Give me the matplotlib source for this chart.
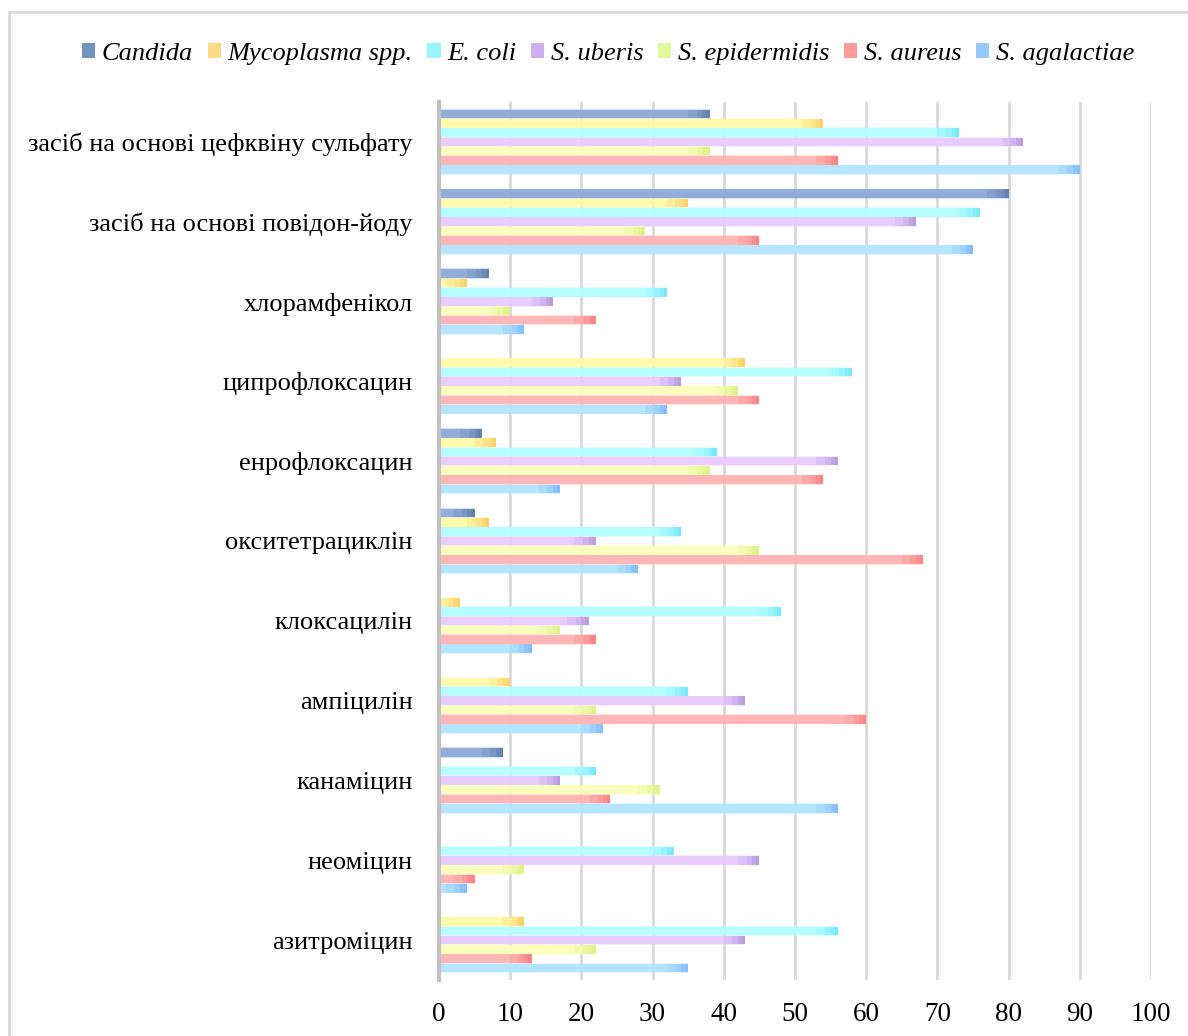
import matplotlib
matplotlib.use("Agg")
import matplotlib.pyplot as plt
from matplotlib.patches import Patch, Rectangle
import numpy as np

plt.rcParams['font.family'] = ['Liberation Serif', 'DejaVu Serif']

# Categories listed bottom to top
categories = [
    "азитроміцин",
    "неоміцин",
    "канаміцин",
    "ампіцилін",
    "клоксацилін",
    "окситетрациклін",
    "енрофлоксацин",
    "ципрофлоксацин",
    "хлорамфенікол",
    "засіб на основі повідон-йоду",
    "засіб на основі цефквіну сульфату",
]

# Series (top of each group to bottom)
candida        = [0, 0, 9, 0, 0, 5, 6, 0, 7, 80, 38]
mycoplasma     = [12, 0, 0, 10, 3, 7, 8, 43, 4, 35, 54]
e_coli         = [56, 33, 22, 35, 48, 34, 39, 58, 32, 76, 73]
s_uberis       = [43, 45, 17, 43, 21, 22, 56, 34, 16, 67, 82]
s_epidermidis  = [22, 12, 31, 22, 17, 45, 38, 42, 10, 29, 38]
s_aureus       = [13, 5, 24, 60, 22, 68, 54, 45, 22, 45, 56]
s_agalactiae   = [35, 4, 56, 23, 13, 28, 17, 32, 12, 75, 90]

series_names = ["Candida", "Mycoplasma spp.", "E. coli", "S. uberis",
                "S. epidermidis", "S. aureus", "S. agalactiae"]
series_values = [candida, mycoplasma, e_coli, s_uberis,
                 s_epidermidis, s_aureus, s_agalactiae]

fill_colors = ["#8fabd8", "#fffaaa", "#b4ffff", "#eaccff",
               "#fbffbb", "#ffb4b4", "#b4e6ff"]
tip_colors = ["#4f6f9f", "#ffc050", "#60e0ff", "#a585d5",
              "#d0ee70", "#ff7070", "#70acff"]
legend_colors = ["#7093c0", "#ffd98a", "#99f3ff", "#ccb0f0",
                 "#e2f7a0", "#ff9a9a", "#99c8ff"]

xticks = [0, 10, 20, 30, 40, 50, 60, 70, 80, 90, 100]

fig = plt.figure(figsize=(11.88, 10.36), dpi=100)
ax = fig.add_axes([0.3695, 0.054, 0.5994, 0.8476])

n_series = len(series_names)
pitch = 0.1167
bar_h = 0.108
y = np.arange(len(categories))

for i, (vals, fc, tc) in enumerate(zip(series_values, fill_colors, tip_colors)):
    offset = (n_series - 1) / 2 * pitch - i * pitch
    vals = np.asarray(vals, dtype=float)
    # soft glow around each bar
    ax.barh(y + offset, vals, height=bar_h + 0.02, color=fc, edgecolor="none",
            alpha=0.35, zorder=2)
    ax.barh(y + offset, vals, height=bar_h, color=fc, edgecolor="none",
            alpha=0.95, zorder=3)
    # gradient toward the end of each bar
    for length, a in [(3.0, 0.18), (1.8, 0.22), (1.0, 0.28), (0.45, 0.3)]:
        tip = np.minimum(vals, length)
        ax.barh(y + offset, tip, left=vals - tip, height=bar_h, color=tc,
                edgecolor="none", alpha=a, zorder=4)

ax.set_xlim(0, 100)
ax.set_ylim(-0.5, len(categories) - 0.5)
ax.set_xticks(xticks)
ax.set_xticklabels([str(t) for t in xticks])
ax.set_yticks(y)
ax.set_yticklabels(categories)
ax.tick_params(axis="both", length=0, labelsize=19.5, colors="black")
ax.tick_params(axis="y", labelsize=19, pad=19)
ax.tick_params(axis="x", pad=16)

ax.grid(axis="x", color="#d9d9d9", linewidth=2, zorder=0)
ax.set_axisbelow(True)
for side in ["top", "right", "bottom"]:
    ax.spines[side].set_visible(False)
ax.spines["left"].set_color("#bfbfbf")
ax.spines["left"].set_linewidth(3)
ax.spines["left"].set_zorder(5)

handles = [Patch(facecolor=c, edgecolor="none") for c in legend_colors]
leg = fig.legend(handles, series_names, loc="center", ncol=7,
                 bbox_to_anchor=(0.512, 0.948), frameon=False,
                 prop={"family": "Liberation Serif", "style": "italic", "size": 19},
                 handlelength=0.5, handleheight=0.5, handletextpad=0.26,
                 columnspacing=0.55)

# chart area border
fig.patches.append(Rectangle((9 / 1188, -0.01), 1.0, 1 - 12 / 1036 + 0.01,
                             transform=fig.transFigure, fill=False,
                             edgecolor="#d9d9d9", linewidth=2))

fig.savefig("out.png", dpi=100, facecolor="white")
